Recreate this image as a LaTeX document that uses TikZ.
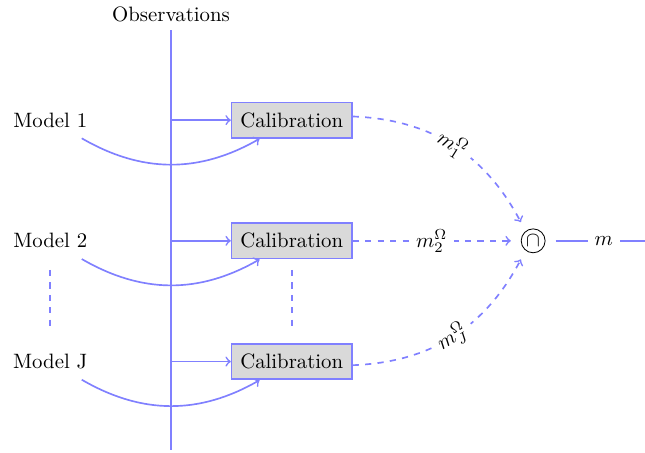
\documentclass[tikz,border=0pt]{standalone}
\usepackage{fontspec}
\usetikzlibrary{calc}
\definecolor{flowc}{RGB}{128,128,255}
\definecolor{boxfill}{gray}{0.85}

\begin{document}
\begin{tikzpicture}[flow/.style={draw=flowc,thick},
  row/.style={minimum height=0.6cm},
  calib/.style={row,draw=flowc,thick,fill=boxfill,minimum width=2.03cm},
  lab/.style={fill=white}]
\useasboundingbox (-2.89,-3.58) rectangle (8.01,4.07);
\coordinate (top) at (0,3.57);
\coordinate (bot) at (0,-3.53);
\draw[flow] (bot) -- (top) node[above,text=black] {Observations};
\foreach \i/\y in {1/2.04,2/0,J/-2.04}{
\node[row] (m\i) at (-2.04,\y) {Model \i};
\node[calib] (c\i) at (2.04,\y) {Calibration};
\draw[flow,->] (c\i -| top) -- (c\i.west);
\draw[flow,->] (m\i) to[bend right] (c\i);}
\draw[flow,dashed] ($(m2)!0.24!(mJ)$) -- ($(m2)!0.74!(mJ)$);
\draw[flow,dashed] ($(c2)!0.24!(cJ)$) -- ($(c2)!0.74!(cJ)$);
\node[circle,draw,inner sep=1pt,outer sep=5pt] (cap) at (6.12,0) {$\cap$};
\coordinate (out) at (8.01,0);
\draw[flow,dashed,->] (c1) to[bend left] node[lab,sloped] {$m_1^\Omega$} (cap);
\draw[flow,dashed,->] (c2) -- node[lab] {$m_2^\Omega$} (cap);
\draw[flow,dashed,->] (cJ) to[bend right] node[lab,sloped] {$m_J^\Omega$} (cap);
\draw[flow] (cap) -- node[lab,pos=0.54] {$m$} (out);
\end{tikzpicture}
\end{document}
